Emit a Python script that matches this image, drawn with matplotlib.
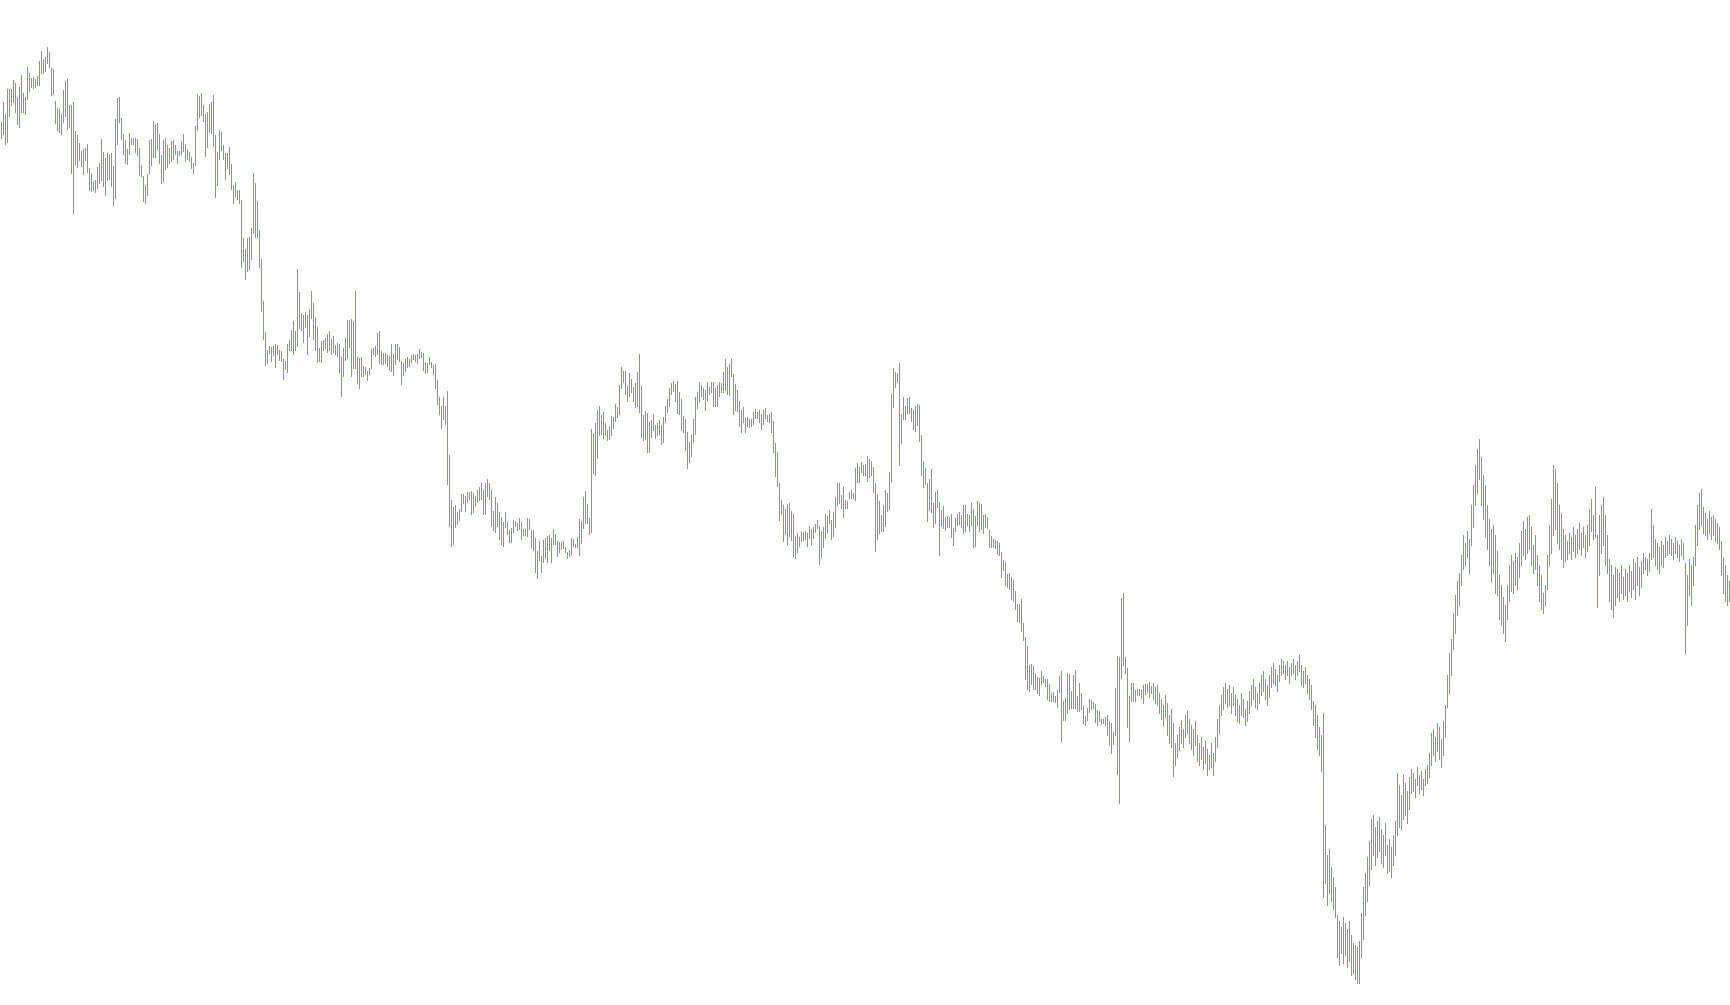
import matplotlib
matplotlib.use("Agg")
import matplotlib.pyplot as plt
import numpy as np

# high / low of each bar (price units), oldest first
highs = [
    883, 903, 891, 916, 916, 916, 925, 922, 908, 918, 930, 912, 908, 938, 932, 927, 928, 926, 929, 944,
    954, 946, 948, 958, 953, 937, 936, 904, 897, 896, 891, 915, 924, 926, 900, 900, 903, 874, 870, 862,
    854, 856, 857, 861, 837, 832, 824, 825, 838, 842, 866, 853, 847, 852, 850, 852, 839, 886, 907, 908,
    887, 871, 865, 856, 872, 867, 867, 867, 866, 857, 840, 829,
    820, 831, 865, 866, 884, 881, 882, 871, 850, 865, 867, 860, 857, 864, 865, 860, 854, 854, 864, 871,
    861, 856, 853, 848, 842, 879, 911, 909, 912, 900, 891, 893, 901, 903, 910, 870, 853, 875, 873, 860,
    852, 852, 858, 841, 820, 823, 815, 815, 805, 767, 756, 767, 768, 777, 832, 822, 804, 775, 746, 704,
    673, 655, 659, 658, 659, 661, 660, 655, 654, 646, 644, 661,
    665, 675, 684, 674, 736, 713, 692, 690, 693, 690, 696, 714, 702, 688, 678, 657, 664, 665, 667, 671,
    674, 666, 669, 660, 662, 661, 648, 657, 667, 685, 685, 686, 684, 714, 648, 647, 648, 639, 638, 634,
    637, 656, 657, 659, 672, 674, 654, 652, 652, 650, 649, 661, 651, 661, 661, 658, 644, 642, 646, 648,
    646, 650, 651, 650, 651, 656, 653, 652, 643, 642, 648, 643,
    640, 641, 625, 608, 599, 608, 599, 614, 550, 505, 498, 500, 493, 496, 511, 511, 509, 513, 513, 514,
    512, 509, 515, 518, 522, 515, 522, 526, 522, 515, 494, 508, 502, 493, 488, 483, 493, 483, 475, 477,
    485, 484, 482, 487, 483, 476, 476, 487, 486, 475, 475, 467, 454, 464, 449, 465, 467, 469, 470, 467,
    476, 471, 464, 463, 463, 464, 458, 453, 455, 467, 466, 461,
    468, 486, 484, 508, 514, 501, 487, 576, 572, 582, 595, 599, 590, 593, 582, 575, 579, 589, 588, 601,
    598, 620, 638, 634, 634, 619, 632, 626, 618, 622, 633, 651, 619, 590, 594, 592, 583, 585, 591, 580,
    582, 585, 580, 588, 599, 606, 617, 622, 624, 621, 624, 613, 606, 589, 586, 573, 563, 570, 586, 608,
    613, 623, 620, 617, 615, 623, 618, 623, 623, 617, 620, 623,
    622, 633, 646, 638, 641, 646, 631, 621, 615, 604, 595, 598, 587, 588, 586, 586, 593, 596, 593, 595,
    591, 595, 597, 590, 591, 593, 584, 562, 553, 522, 505, 500, 496, 501, 502, 494, 491, 469, 472, 468,
    473, 473, 474, 472, 479, 476, 478, 481, 485, 479, 474, 478, 491, 489, 495, 485, 493, 508, 522, 522,
    510, 518, 505, 504, 513, 515, 512, 537, 542, 538, 543, 540,
    541, 549, 546, 544, 538, 522, 511, 504, 490, 500, 515, 512, 533, 611, 637, 633, 632, 642, 591, 608,
    599, 607, 608, 597, 595, 599, 601, 600, 570, 544, 537, 522, 526, 536, 502, 513, 515, 503, 495, 499,
    488, 489, 488, 491, 477, 487, 491, 493, 490, 500, 500, 491, 490, 502, 496, 489, 504, 502, 501, 490,
    491, 488, 475, 469, 466, 465, 464, 462, 453, 445, 443, 431,
    432, 428, 425, 414, 401, 401, 406, 382, 368, 359, 340, 341, 339, 331, 328, 327, 334, 329, 326, 326,
    321, 312, 313, 309, 315, 329, 334, 304, 307, 332, 331, 314, 330, 335, 309, 322, 312, 299, 289, 297,
    306, 305, 303, 301, 295, 294, 286, 286, 288, 290, 284, 282, 273, 317, 349, 348, 407, 412, 348, 337,
    309, 322, 322, 315, 316, 316, 315, 320, 321, 321, 323, 319,
    322, 318, 320, 312, 306, 300, 310, 302, 290, 296, 282,
    262, 270, 278, 285, 276, 290, 294, 286, 280, 276, 284, 270, 262, 268, 258, 264, 256, 250, 262, 252,
    268, 286, 300, 310, 318, 322, 316, 320, 312, 318, 310, 306, 300, 312, 306, 296, 304, 314, 320, 326,
    318, 312, 322, 330, 334, 326, 320, 330,
    338, 342, 336, 330, 340, 346, 344, 340, 344, 338, 342, 346, 340, 344, 350, 340, 334, 338, 330, 326,
    320, 304, 300, 290, 278, 270,
    292, 180, 150, 156, 138, 128, 118, 90, 84, 78, 88, 82, 76, 84, 70, 62, 60, 58, 64,
    92, 118, 132, 148, 164, 186, 190, 178, 184, 188, 176, 170, 182, 160, 166, 158, 170, 184, 232, 220,
    210, 230, 222, 214, 228, 236, 232, 226, 238, 230, 234, 226, 236, 240, 252, 272, 276, 268, 282, 278,
    266, 284, 300,
    330, 352, 366, 392, 410, 424, 432, 450, 470, 462, 474, 466, 500, 520, 540, 556, 566,
    548, 530, 520, 500, 486, 476, 480, 470, 454, 430, 420, 408, 400, 420, 440, 450, 444, 452, 448, 462,
    474, 484, 476, 488, 490, 478, 460, 470, 450, 440, 430, 412, 420, 450, 480, 506, 540, 536, 522, 500,
    492, 476, 470, 464, 472, 468, 478, 470, 476, 482, 472, 478, 470, 480, 496, 506, 490, 518, 470, 490,
    500, 508, 490, 470, 446, 440, 430, 438, 436, 432, 440, 428, 436, 432, 440, 434, 446, 442, 448, 438,
    444, 452, 448, 446, 452, 496, 480, 466, 462, 458, 464, 460, 468, 464, 470, 466, 462, 468, 464, 460,
    466, 462, 442, 430, 446, 440, 448, 480, 500, 512, 516, 498, 492, 486, 494, 488, 490, 486, 482, 478,
    464, 448, 440, 430, 424,
]
lows = [
    867, 871, 861, 863, 889, 900, 903, 893, 881, 878, 893, 893, 891, 906, 914, 918, 917, 918, 920, 920,
    932, 932, 934, 942, 938, 910, 911, 882, 875, 873, 871, 883, 889, 876, 878, 832, 792, 841, 838, 845,
    839, 831, 845, 833, 815, 814, 815, 813, 817, 822, 825, 819, 810, 825, 826, 819, 800, 807, 861, 883,
    866, 851, 842, 841, 851, 861, 861, 853, 850, 830, 829, 804,
    802, 810, 832, 840, 848, 848, 856, 842, 822, 824, 836, 838, 842, 844, 846, 851, 842, 850, 851, 854,
    844, 846, 844, 837, 832, 840, 875, 888, 890, 884, 849, 858, 873, 872, 859, 808, 820, 846, 855, 846,
    826, 837, 831, 816, 802, 809, 806, 802, 738, 744, 726, 734, 736, 746, 772, 768, 768, 738, 694, 666,
    640, 642, 652, 644, 650, 638, 651, 645, 644, 626, 636, 633,
    655, 655, 651, 655, 659, 677, 675, 663, 678, 651, 669, 687, 666, 655, 643, 644, 643, 655, 657, 653,
    655, 651, 653, 651, 649, 633, 609, 629, 645, 647, 658, 629, 637, 637, 622, 617, 629, 629, 631, 625,
    631, 637, 651, 649, 651, 642, 641, 641, 642, 639, 635, 634, 630, 641, 646, 644, 621, 630, 634, 638,
    639, 643, 646, 644, 642, 647, 648, 635, 632, 633, 641, 638,
    631, 617, 601, 591, 577, 586, 581, 521, 479, 459, 461, 478, 481, 485, 494, 502, 494, 503, 506, 491,
    493, 499, 503, 505, 506, 491, 491, 509, 506, 479, 475, 473, 479, 466, 461, 459, 478, 471, 463, 463,
    473, 479, 475, 476, 466, 470, 470, 469, 476, 458, 455, 433, 427, 445, 433, 443, 447, 443, 455, 443,
    461, 461, 449, 453, 456, 457, 453, 447, 449, 450, 459, 458,
    458, 450, 462, 477, 482, 482, 471, 473, 532, 530, 547, 570, 571, 567, 570, 565, 566, 570, 577, 584,
    588, 591, 617, 623, 611, 604, 609, 613, 604, 598, 599, 593, 568, 565, 566, 553, 553, 568, 575, 567,
    570, 571, 561, 563, 583, 593, 599, 611, 614, 604, 592, 591, 575, 573, 555, 537, 543, 549, 563, 571,
    597, 603, 609, 606, 595, 605, 611, 613, 599, 599, 599, 609,
    613, 613, 615, 611, 610, 629, 591, 595, 594, 579, 573, 583, 573, 579, 578, 579, 581, 587, 587, 583,
    576, 581, 587, 584, 583, 573, 553, 529, 519, 485, 491, 464, 471, 461, 469, 465, 449, 447, 453, 459,
    464, 465, 466, 459, 467, 461, 467, 473, 477, 441, 448, 458, 467, 473, 482, 466, 469, 478, 500, 502,
    497, 488, 497, 497, 507, 507, 507, 505, 523, 523, 533, 530,
    530, 524, 528, 530, 513, 454, 466, 472, 474, 474, 479, 494, 496, 523, 598, 618, 623, 540, 562, 586,
    586, 592, 592, 584, 576, 574, 580, 564, 530, 518, 521, 484, 495, 493, 478, 482, 498, 450, 479, 477,
    475, 478, 478, 468, 460, 474, 480, 481, 478, 472, 474, 480, 474, 480, 458, 459, 480, 474, 476, 472,
    478, 477, 458, 458, 458, 457, 451, 450, 428, 435, 420, 418,
    416, 406, 404, 396, 384, 383, 374, 365, 326, 316, 314, 321, 316, 316, 312, 310, 321, 323, 319, 306,
    304, 304, 304, 303, 298, 313, 264, 285, 285, 292, 296, 297, 297, 297, 294, 294, 296, 282, 280, 285,
    293, 296, 297, 283, 280, 284, 281, 282, 280, 270, 260, 252, 261, 270, 231, 202, 327, 340, 332, 278,
    264, 304, 304, 304, 310, 310, 307, 302, 311, 313, 308, 312,
    306, 302, 300, 292, 286, 280, 288, 270, 262, 258, 229,
    240, 248, 255, 262, 258, 268, 272, 262, 256, 250, 260, 244, 240, 246, 236, 242, 230, 236, 238, 230,
    244, 258, 272, 290, 296, 302, 298, 300, 292, 300, 290, 284, 282, 290, 288, 280, 284, 292, 300, 306,
    298, 296, 302, 310, 314, 306, 300, 308,
    318, 322, 320, 314, 324, 330, 332, 326, 330, 322, 330, 332, 326, 330, 334, 320, 318, 322, 312, 306,
    296, 280, 268, 256, 250, 234,
    108, 122, 100, 112, 104, 96, 88, 48, 40, 52, 42, 50, 38, 44, 30, 32, 26, 22, 22,
    48, 66, 90, 104, 120, 136, 150, 140, 148, 154, 142, 138, 150, 132, 134, 128, 140, 150, 170, 178,
    176, 186, 190, 182, 196, 212, 214, 208, 220, 212, 216, 210, 220, 222, 228, 240, 250, 244, 254, 246,
    238, 250, 268,
    298, 312, 330, 356, 372, 390, 400, 420, 436, 440, 448, 432, 460, 478, 500, 512, 526,
    500, 486, 468, 456, 440, 424, 432, 412, 410, 386, 380, 372, 364, 386, 404, 414, 412, 420, 416, 428,
    440, 450, 446, 452, 456, 440, 432, 436, 420, 404, 396, 392, 400, 416, 440, 452, 470, 476, 462, 456,
    446, 438, 444, 446, 452, 446, 454, 448, 452, 456, 450, 458, 448, 454, 460, 474, 466, 468, 398, 430,
    452, 460, 440, 432, 404, 396, 388, 400, 408, 404, 412, 406, 410, 404, 414, 408, 416, 406, 420, 410,
    418, 432, 436, 430, 434, 446, 448, 440, 436, 432, 440, 438, 448, 450, 452, 450, 446, 452, 448, 444,
    450, 446, 352, 380, 410, 400, 420, 440, 460, 476, 480, 472, 470, 466, 472, 466, 470, 464, 462, 456,
    430, 412, 404, 400, 404,
]

bar_color = "#22dd22"

fig = plt.figure(figsize=(17.30, 10.05), dpi=100)
ax = fig.add_axes([0, 0, 1, 1])
x = np.arange(len(highs))
ax.vlines(x, lows, highs, colors=bar_color, linewidth=0.72, antialiased=False)
ax.set_xlim(-0.75, len(highs) - 0.25)
ax.set_ylim(0, 1005)
ax.axis("off")

fig.savefig("out.png", dpi=100, facecolor="white")
